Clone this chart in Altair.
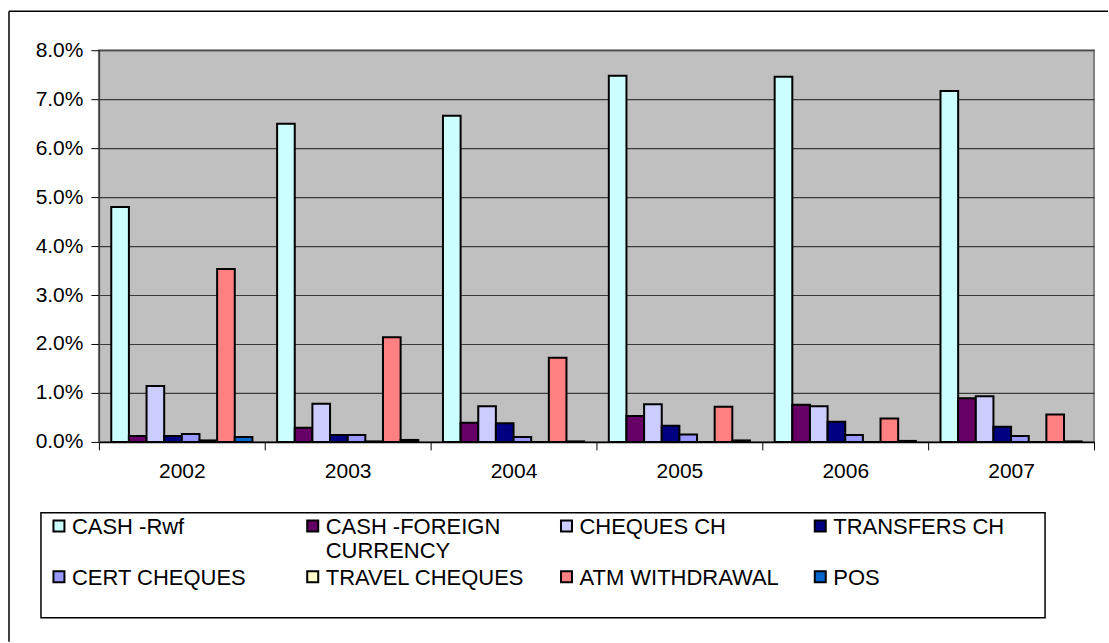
import altair as alt
import pandas as pd

years = ["2002", "2003", "2004", "2005", "2006", "2007"]
series = ["CASH -Rwf", "CASH -FOREIGN CURRENCY", "CHEQUES CH", "TRANSFERS CH",
          "CERT CHEQUES", "TRAVEL CHEQUES", "ATM WITHDRAWAL", "POS"]
colors = ["#CCFFFF", "#660066", "#CCCCFF", "#000080",
          "#9999FF", "#FFFFCC", "#FF8080", "#0066CC"]

# values in percent
cash_rwf = [4.80, 6.50, 6.66, 7.48, 7.46, 7.17]
cash_foreign = [0.12, 0.29, 0.39, 0.53, 0.76, 0.89]
cheques_ch = [1.14, 0.78, 0.73, 0.77, 0.73, 0.93]
transfers_ch = [0.12, 0.14, 0.38, 0.33, 0.41, 0.31]
cert_cheques = [0.16, 0.14, 0.10, 0.15, 0.14, 0.12]
travel_cheques = [0.03, 0.01, 0.0, 0.0, 0.0, 0.0]
atm_withdrawal = [3.53, 2.14, 1.72, 0.72, 0.48, 0.56]
pos = [0.10, 0.04, 0.01, 0.03, 0.02, 0.01]

all_series = [cash_rwf, cash_foreign, cheques_ch, transfers_ch,
              cert_cheques, travel_cheques, atm_withdrawal, pos]

rows = []
for name, vals in zip(series, all_series):
    for yr, v in zip(years, vals):
        rows.append({"year": yr, "series": name, "value": v / 100.0})
df = pd.DataFrame(rows)

FONT = "Liberation Sans"
W, H = 996, 392

bars = alt.Chart(df).mark_bar(stroke="black", strokeWidth=2).encode(
    x=alt.X("year:N", sort=years, title=None,
            scale=alt.Scale(paddingInner=0, paddingOuter=0),
            axis=alt.Axis(tickBand="extent", grid=False, labelAngle=0,
                          labelFont=FONT, labelFontSize=21, labelColor="black",
                          labelPadding=11, tickSize=8, tickColor="black",
                          domainColor="black", domainWidth=1.5)),
    xOffset=alt.XOffset("series:N", sort=series,
                        scale=alt.Scale(paddingInner=0, paddingOuter=0.7)),
    y=alt.Y("value:Q", title=None,
            scale=alt.Scale(domain=[0, 0.08], nice=False),
            axis=alt.Axis(format=".1%", values=[0, 0.01, 0.02, 0.03, 0.04, 0.05, 0.06, 0.07, 0.08],
                          labelFont=FONT, labelFontSize=21, labelColor="black",
                          labelPadding=8, tickSize=8, tickColor="black",
                          domainColor="#404040", domainWidth=1.5,
                          gridColor="#3a3a3a", gridWidth=1.2, gridOpacity=1)),
    color=alt.Color("series:N", sort=series,
                    scale=alt.Scale(domain=series, range=colors),
                    legend=alt.Legend(
                        title=None, orient="none", legendX=-51, legendY=473,
                        direction="horizontal", columns=4, gridAlign="all",
                        columnPadding=30, rowPadding=5, padding=0,
                        symbolType="M-1,-2.44L1,-2.44L1,-0.44L-1,-0.44Z",
                        symbolSize=121, symbolStrokeColor="black",
                        symbolStrokeWidth=2, symbolOpacity=1,
                        labelFont=FONT, labelFontSize=22, labelColor="black",
                        labelBaseline="alphabetic", labelOffset=2, labelLimit=500,
                        labelExpr="datum.label == 'CASH -FOREIGN CURRENCY' ? ['CASH -FOREIGN', 'CURRENCY'] : [datum.label, '']")),
)

one = alt.Data(values=[{}])
frame_top = alt.Chart(one).mark_rule(color="black", strokeWidth=1.5).encode(
    x=alt.value(-90), x2=alt.value(1010), y=alt.value(-39))
frame_left = alt.Chart(one).mark_rule(color="black", strokeWidth=1.5).encode(
    x=alt.value(-90), y=alt.value(-39), y2=alt.value(592))
legend_box = alt.Chart(one).mark_rect(fill="white", stroke="black", strokeWidth=1.5).encode(
    x=alt.value(-58), x2=alt.value(947), y=alt.value(463), y2=alt.value(568))

chart = alt.layer(frame_top, frame_left, legend_box, bars).properties(
    width=W, height=H,
    padding={"left": 8, "top": 10, "right": 0, "bottom": 0},
).configure(
    background="white",
    view=alt.ViewConfig(fill="#C0C0C0", stroke="#808080", strokeWidth=2),
    style={"guide-label": {"lineHeight": 24}},
)

chart.save("out.html", embed_options={"renderer": "svg", "actions": False})
